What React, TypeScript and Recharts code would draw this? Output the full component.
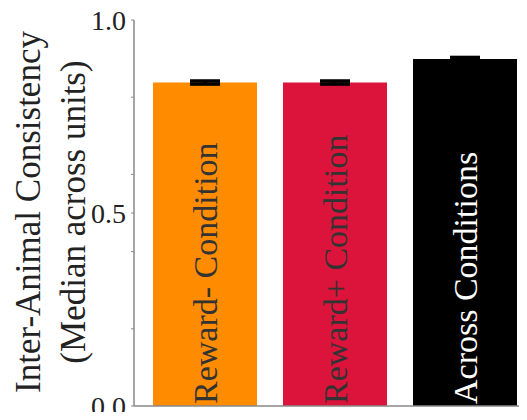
import { Bar, BarChart, Cell, ErrorBar, LabelList, XAxis, YAxis } from "recharts"

const conditions = ["Reward- Condition", "Reward+ Condition", "Across Conditions"]
const consistency = [0.838, 0.838, 0.899]
const sem = [0.004, 0.004, 0.004]
const barColors = ["#ff8c00", "#dc143c", "#000000"]
const labelColors = ["#333333", "#333333", "#ffffff"]
const yTicks = [0, 0.2, 0.4, 0.5, 0.6, 0.8, 1.0]
const yTickLabels: Record<string, string> = { "0": "0.0", "0.5": "0.5", "1": "1.0" }

const data = conditions.map((name, i) => ({ name, value: consistency[i], err: sem[i] }))

const FONT = "'Liberation Serif', 'DejaVu Serif', serif"

function YTick({ x, y, payload }: any) {
  const text = yTickLabels[String(payload.value)]
  if (!text) return null
  return (
    <text x={x - 3} y={y} dy="0.35em" textAnchor="end" fontFamily={FONT} fontSize={28} fill="#222">
      {text}
    </text>
  )
}

function BarText({ x, y, width, height, index }: any) {
  const cx = x + width / 2
  const by = y + height - 2
  return (
    <text
      x={cx}
      y={by}
      dy="0.35em"
      transform={`rotate(-90, ${cx}, ${by})`}
      textAnchor="start"
      fontFamily={FONT}
      fontSize={34}
      fill={labelColors[index]}
    >
      {conditions[index]}
    </text>
  )
}

function YLabel() {
  const cy = 212
  return (
    <g fontFamily={FONT} fontSize={35} fill="#222" textAnchor="middle">
      <text x={28} y={cy} dy="0.35em" transform={`rotate(-90, 28, ${cy})`}>
        Inter-Animal Consistency
      </text>
      <text x={73} y={cy} dy="0.35em" transform={`rotate(-90, 73, ${cy})`}>
        (Median across units)
      </text>
    </g>
  )
}

export default function App() {
  return (
    <div style={{ margin: -8, width: 527, height: 420, overflow: "hidden", background: "#fff" }}>
      <BarChart
        width={530}
        height={420}
        data={data}
        margin={{ top: 20, right: 0, bottom: 13, left: 0 }}
        barCategoryGap="10%"
      >
        <XAxis
          dataKey="name"
          tick={false}
          height={1}
          padding={{ left: 6, right: 0 }}
          axisLine={{ stroke: "#888", strokeWidth: 1.5 }}
          tickLine={false}
        />
        <YAxis
          width={134}
          domain={[0, 1]}
          ticks={yTicks}
          tick={<YTick />}
          tickSize={3}
          tickLine={{ stroke: "#888" }}
          axisLine={{ stroke: "#888", strokeWidth: 1.5 }}
        />
        <Bar dataKey="value" isAnimationActive={false}>
          {data.map((d, i) => (
            <Cell key={d.name} fill={barColors[i]} />
          ))}
          <ErrorBar dataKey="err" width={15} strokeWidth={3.5} stroke="#000" isAnimationActive={false} />
          <LabelList dataKey="value" content={<BarText />} />
        </Bar>
        <YLabel />
      </BarChart>
    </div>
  )
}
